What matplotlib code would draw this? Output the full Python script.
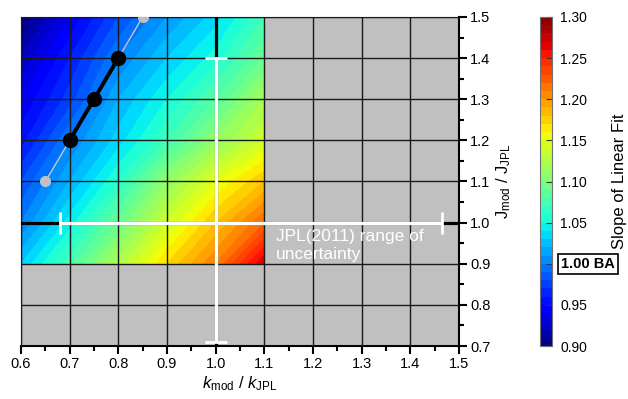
import numpy as np
import matplotlib
matplotlib.use("Agg")
import matplotlib.pyplot as plt
from matplotlib.ticker import MultipleLocator, FormatStrFormatter

plt.rcParams["font.family"] = ["Liberation Sans", "DejaVu Sans"]
plt.rcParams["mathtext.fontset"] = "custom"
plt.rcParams["mathtext.rm"] = "Liberation Sans"
plt.rcParams["mathtext.it"] = "Liberation Sans:italic"

# grid of model runs: rate ratio (k) by photolysis ratio (J)
k_ratio = [0.6, 0.7, 0.8, 0.9, 1.0, 1.1]
j_ratio = [0.9, 1.0, 1.1, 1.2, 1.3, 1.4, 1.5]
# slope of linear fit, rows follow j_ratio, columns follow k_ratio
slope = [
    [1.03, 1.075, 1.125, 1.17, 1.21, 1.27],
    [1.00, 1.045, 1.09, 1.14, 1.18, 1.22],
    [0.98, 1.02, 1.06, 1.11, 1.15, 1.18],
    [0.955, 1.00, 1.035, 1.07, 1.11, 1.14],
    [0.94, 0.975, 1.02, 1.05, 1.08, 1.12],
    [0.92, 0.96, 1.00, 1.03, 1.055, 1.09],
    [0.90, 0.94, 0.98, 1.01, 1.035, 1.07],
]

# runs that match the 1.00 BA slope
ba_k = [0.65, 0.7, 0.75, 0.8, 0.85]
ba_j = [1.1, 1.2, 1.3, 1.4, 1.5]

# JPL(2011) uncertainty range around the recommended values
jpl_k_err = [[0.32], [0.465]]
jpl_j_err = [[0.29], [0.40]]

cbar_ticks = [0.90, 0.95, 1.00, 1.05, 1.10, 1.15, 1.20, 1.25, 1.30]

fig = plt.figure(figsize=(6.28, 3.99), dpi=100)
ax = fig.add_axes([21 / 628, 1 - 346 / 399, 438 / 628, 329 / 399])
cax = fig.add_axes([540 / 628, 1 - 346 / 399, 12 / 628, 329 / 399])

ax.set_facecolor("#c0c0c0")
K, J = np.meshgrid(k_ratio, j_ratio)
cs = ax.contourf(K, J, np.array(slope), levels=np.linspace(0.9, 1.3, 41),
                 cmap="jet", vmin=0.9, vmax=1.3, zorder=1)

ax.grid(True, which="major", color="#1a1a1a", lw=1.0, zorder=2)
ax.set_axisbelow(False)
ax.axvline(1.0, color="black", lw=2.3, zorder=3)
ax.axhline(1.0, color="black", lw=2.3, zorder=3)

ax.errorbar([1.0], [1.0], xerr=jpl_k_err, yerr=jpl_j_err, fmt="none",
            ecolor="white", elinewidth=2.4, capsize=8, capthick=2.0, zorder=4)

ax.plot(ba_k, ba_j, color="#c8c8c8", lw=1.0, zorder=5)
ax.plot(ba_k[1:4], ba_j[1:4], color="black", lw=2.8, zorder=6)
ax.plot([ba_k[0], ba_k[-1]], [ba_j[0], ba_j[-1]], "o", color="#c0c0c0",
        ms=7, zorder=7)
ax.plot(ba_k[1:4], ba_j[1:4], "o", color="black", ms=10, zorder=7)

ax.text(1.123, 0.985, "JPL(2011) range of\nuncertainty", color="white",
        fontsize=12.5, va="top", ha="left", linespacing=1.25, zorder=8)

ax.set_xlim(0.6, 1.5)
ax.set_ylim(0.7, 1.5)
ax.xaxis.set_major_locator(MultipleLocator(0.1))
ax.xaxis.set_minor_locator(MultipleLocator(0.05))
ax.yaxis.set_major_locator(MultipleLocator(0.1))
ax.yaxis.set_minor_locator(MultipleLocator(0.05))
ax.yaxis.tick_right()
ax.yaxis.set_label_position("right")
ax.tick_params(which="major", direction="out", length=6, width=1.5,
               labelsize=10.5, pad=2)
ax.tick_params(which="minor", direction="out", length=3.5, width=1.5)
ax.tick_params(axis="y", which="both", left=False, right=True)
ax.xaxis.set_major_formatter(FormatStrFormatter("%.1f"))
ax.yaxis.set_major_formatter(FormatStrFormatter("%.1f"))

for side in ["right", "bottom"]:
    ax.spines[side].set_linewidth(1.5)
for side in ["left", "top"]:
    ax.spines[side].set_linewidth(0.8)

ax.set_xlabel(r"$k_{\rm mod}$ / $k_{\rm JPL}$", fontsize=12, labelpad=2)
ax.set_ylabel(r"J$_{\rm mod}$ / J$_{\rm JPL}$", fontsize=12, rotation=90,
              labelpad=3)

cb = fig.colorbar(cs, cax=cax, ticks=cbar_ticks)
cb.outline.set_edgecolor("#707070")
cb.outline.set_linewidth(0.8)
cax.set_yticklabels(["" if abs(t - 1.0) < 1e-9 else "%.2f" % t for t in cbar_ticks])
cax.tick_params(direction="in", length=4, width=0.8, color="#333333",
                labelsize=10, pad=6)
cax.text(1.75, 1.0, "1.00 BA", transform=cax.get_yaxis_transform(),
         fontsize=10.5, fontweight="bold", va="center", ha="left",
         bbox=dict(boxstyle="square,pad=0.2", fc="white", ec="black", lw=1.2))
cb.set_label("Slope of Linear Fit", fontsize=12, labelpad=18)

fig.savefig("out.png", dpi=100)
